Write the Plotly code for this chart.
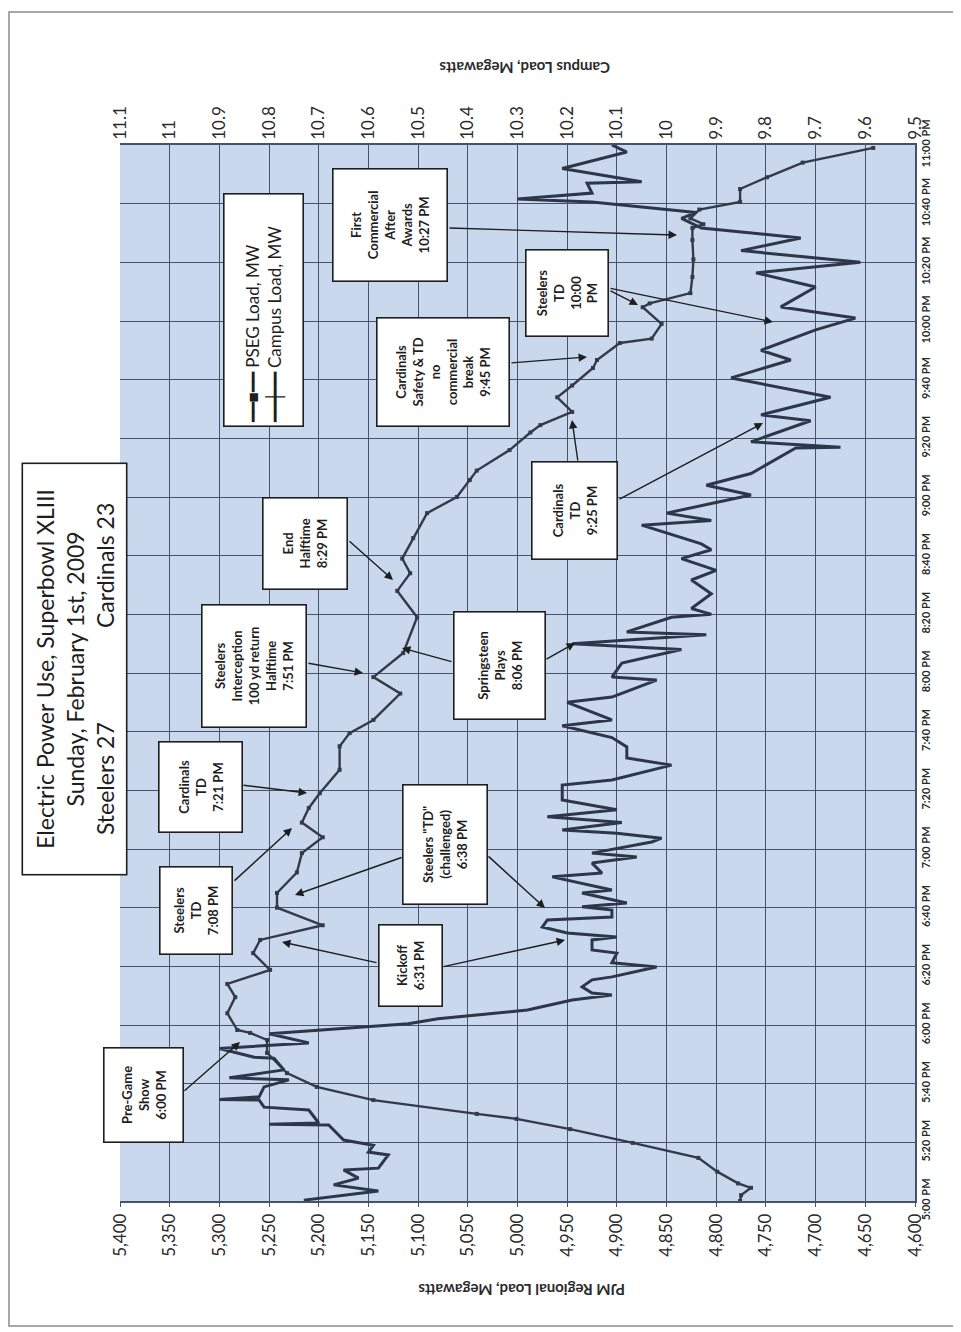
import plotly.graph_objects as go

# ---------------- data ----------------
time_tick_min = [0, 20, 40, 60, 80, 100, 120, 140, 160, 180, 200, 220, 240, 260, 280, 300, 320, 340, 360]
time_tick_labels = ["5:00 PM", "5:20 PM", "5:40 PM", "6:00 PM", "6:20 PM", "6:40 PM", "7:00 PM",
                    "7:20 PM", "7:40 PM", "8:00 PM", "8:20 PM", "8:40 PM", "9:00 PM", "9:20 PM",
                    "9:40 PM", "10:00 PM", "10:20 PM", "10:40 PM", "11:00 PM"]

pjm_ticks = [4600, 4650, 4700, 4750, 4800, 4850, 4900, 4950, 5000, 5050, 5100, 5150, 5200, 5250, 5300, 5350, 5400]
pjm_tick_labels = ["4,600", "4,650", "4,700", "4,750", "4,800", "4,850", "4,900", "4,950", "5,000",
                   "5,050", "5,100", "5,150", "5,200", "5,250", "5,300", "5,350", "5,400"]

campus_ticks = [9.5, 9.6, 9.7, 9.8, 9.9, 10.0, 10.1, 10.2, 10.3, 10.4, 10.5, 10.6, 10.7, 10.8, 10.9, 11.0, 11.1]
campus_tick_labels = ["9.5", "9.6", "9.7", "9.8", "9.9", "10", "10.1", "10.2", "10.3", "10.4", "10.5",
                      "10.6", "10.7", "10.8", "10.9", "11", "11.1"]

# minutes after 5:00 PM
pseg_min = [0, 2, 4.5, 6, 10, 14.7, 19.8, 24.5, 28, 29.7, 34.4, 38.9, 43.6, 50.5, 54.9, 57.3, 58.3,
            64, 69.5, 74, 78.8, 84.5, 89, 94, 100, 105, 112, 118.6, 124, 129, 134, 139, 147, 155,
            159.5, 164, 173, 178.6, 186.8, 199, 208, 214, 219, 226, 234.5, 240, 245.8, 249, 256,
            262, 264.5, 269, 274, 278, 284, 286.7, 292.5, 294, 299, 304.7, 306, 309.5, 315, 321,
            327.6, 331.7, 333, 335, 338, 340.6, 345, 349, 354, 359]
pseg_mw = [4776, 4775, 4765, 4778, 4799, 4818, 4884, 4947, 5001, 5041, 5145, 5202, 5232, 5252, 5252, 5269, 5282,
           5292, 5284, 5292, 5249, 5266, 5259, 5196, 5242, 5242, 5222, 5217, 5196, 5217, 5210, 5199, 5179, 5179,
           5169, 5145, 5118, 5145, 5115, 5101, 5121, 5108, 5116, 5105, 5091, 5061, 5048, 5041, 5008,
           4987, 4977, 4945, 4960, 4945, 4924, 4920, 4897, 4865, 4855, 4874, 4867, 4826, 4824, 4823,
           4824, 4824, 4813, 4826, 4817, 4776, 4776, 4749, 4713, 4642]

campus_min = [0.3, 3.4, 5.5, 7.8, 10.6, 11.2, 15.7, 16.7, 19, 20.8, 25.9, 26.2, 26.6, 31, 32, 34.4, 34.6,
              35.5, 38.9, 41.3, 42, 44.7, 48.7, 49, 52, 53.9, 57, 58.3, 60.4, 62.1, 64.4, 65.1, 68.5,
              70.2, 70.9, 73, 75.4, 76.4, 79.8, 81.2, 84.5, 85.6, 89, 90, 91.4, 93.4, 95.8, 96.8, 99.2,
              100.3, 101.6, 105, 106, 110.5, 111.8, 115.2, 117.3, 118.6, 122.4, 123.7, 125.4, 126.5,
              129, 131, 133.4, 136.7, 141.8, 143.5, 148.6, 151, 154.8, 158, 162, 164, 170, 171.8,
              177.6, 178.6, 183.4, 188, 190, 193, 194, 199, 200, 202, 207, 211.7, 215, 219, 222, 224,
              230.4, 232, 234.5, 240.7, 244, 248, 256.7, 257, 258.8, 266, 268, 274, 280.6, 286.7,
              290, 297, 301, 304.8, 311.6, 316.4, 320, 324, 328.3, 331.7, 335, 337, 340.6, 341.6,
              343.6, 347, 347.5, 352, 357.6, 360]
campus_mw = [10.73, 10.58, 10.67, 10.62, 10.65, 10.58, 10.56, 10.60, 10.59, 10.65, 10.68, 10.80, 10.70, 10.72,
             10.81, 10.82, 10.90, 10.82, 10.81, 10.76, 10.88, 10.77, 10.79, 10.83, 10.90, 10.72, 10.80, 10.70,
             10.52, 10.46, 10.33, 10.28, 10.19, 10.11, 10.15, 10.17, 10.15, 10.11, 10.02, 10.11, 10.10, 10.15,
             10.15, 10.10, 10.20, 10.25, 10.24, 10.11, 10.11, 10.17, 10.08, 10.17, 10.11, 10.23, 10.13, 10.15,
             10.06, 10.15, 10.03, 10.01, 10.10, 10.21, 10.09, 10.24, 10.10, 10.21, 10.21, 10.11, 9.99, 10.08,
             10.08, 10.11, 10.21, 10.11, 10.20, 10.11, 10.02, 10.11, 10.09, 9.97, 10.19, 9.92, 10.08, 9.99,
             9.91, 9.95, 9.91, 9.95, 9.90, 9.97, 9.91, 9.93, 10.05, 9.91, 10.00, 9.83, 9.92, 9.83, 9.74, 9.65,
             9.83, 9.71, 9.81, 9.67, 9.87, 9.75, 9.81, 9.70, 9.62, 9.77, 9.70, 9.82, 9.61, 9.85, 9.73, 9.93,
             9.97, 9.94, 10.15, 10.30, 10.15, 10.16, 10.05, 10.21, 10.08, 10.11]

# ---------------- layout helpers (screen pixel -> paper) ----------------
OFF = 8                      # page body margin
L, R, T, B = 120, 915, 145, 1201   # plot area on screen
FIG_W, FIG_H = 953, 1324
W_PLOT, H_PLOT = R - L, B - T


def px(xp, yp):
    return (xp - L) / W_PLOT, (B - yp) / H_PLOT


FONT = "Lato"
LINE = "#343a48"
GRID = "#46536d"
INK = "#1e1e1e"

fig = go.Figure()
fig.add_trace(go.Scatter(x=pseg_mw, y=pseg_min, xaxis="x", yaxis="y", mode="lines+markers",
                         line=dict(color=LINE, width=2.4), marker=dict(symbol="square", size=4, color=LINE),
                         name="PSEG Load, MW", showlegend=False))
fig.add_trace(go.Scatter(x=campus_mw, y=campus_min, xaxis="x2", yaxis="y", mode="lines",
                         line=dict(color="#2e364a", width=3), name="Campus Load, MW", showlegend=False))

annotations = []

# arrows: (tail px, head px)
arrows = [
    ((183, 1092), (240, 1042)),
    ((233, 882), (292, 828)),
    ((403, 857), (295, 895)),
    ((487, 855), (545, 908)),
    ((378, 963), (282, 942)),
    ((442, 967), (565, 940)),
    ((242, 785), (307, 793)),
    ((307, 663), (363, 673)),
    ((348, 540), (393, 580)),
    ((453, 662), (402, 648)),
    ((545, 660), (575, 643)),
    ((578, 462), (572, 420)),
    ((618, 500), (763, 423)),
    ((510, 363), (587, 357)),
    ((609, 290), (638, 305)),
    ((609, 288), (773, 322)),
    ((448, 228), (677, 235)),
]
for (tx, ty), (hx, hy) in arrows:
    x0, y0 = px(hx, hy)
    annotations.append(dict(xref="paper", yref="paper", x=x0, y=y0, text="", showarrow=True,
                            ax=tx - hx, ay=ty - hy, axref="pixel", ayref="pixel",
                            arrowhead=2, arrowsize=1.2, arrowwidth=1.4, arrowcolor=INK))

# callout boxes: (center px, screen w, screen h, text, font size)
boxes = [
    ((143, 1095), 80, 95, "Pre-Game<br>Show<br>6:00 PM", 13),
    ((196, 911), 73, 88, "Steelers<br>TD<br>7:08 PM", 13),
    ((200, 787), 84, 91, "Cardinals<br>TD<br>7:21 PM", 13),
    ((254, 666), 105, 123, "Steelers<br>Interception<br>100 yd return<br>Halftime<br>7:51 PM", 13),
    ((305, 544), 85, 92, "End<br>Halftime<br>8:29 PM", 13),
    ((410, 966), 64, 82, "Kickoff<br>6:31 PM", 13),
    ((445, 845), 85, 120, "Steelers \"TD\"<br>(challenged)<br>6:38 PM", 13),
    ((499, 666), 92, 108, "Springsteen<br>Plays<br>8:06 PM", 13),
    ((575, 511), 86, 98, "Cardinals<br>TD<br>9:25 PM", 13),
    ((443, 372), 133, 109, "Cardinals<br>Safety &amp; TD<br>no<br>commercial<br>break<br>9:45 PM", 13),
    ((567, 293), 83, 87, "Steelers<br>TD<br>10:00<br>PM", 13),
    ((390, 225), 115, 113, "First<br>Commercial<br>After<br>Awards<br>10:27 PM", 13),
]
for (cx, cy), w, h, txt, fs in boxes:
    x0, y0 = px(cx, cy)
    annotations.append(dict(xref="paper", yref="paper", x=x0, y=y0, text="<b>" + txt + "</b>",
                            showarrow=False, textangle=-90, xanchor="center", yanchor="middle",
                            width=h - 6, height=w - 6, borderpad=2, bgcolor="white",
                            bordercolor=INK, borderwidth=1.6,
                            font=dict(family=FONT, size=fs, color=INK), align="center"))

# legend box
x0, y0 = px(263, 310)
annotations.append(dict(xref="paper", yref="paper", x=x0, y=y0,
                        text="━━■━━ PSEG Load, MW<br>━━┿━━ Campus Load, MW",
                        showarrow=False, textangle=-90, xanchor="center", yanchor="middle",
                        width=227, height=74, borderpad=2, bgcolor="white", bordercolor=INK,
                        borderwidth=1.6, font=dict(family=FONT, size=17, color=INK), align="left"))

# title box
x0, y0 = px(74.5, 669)
annotations.append(dict(xref="paper", yref="paper", x=x0, y=y0,
                        text="Electric Power Use, Superbowl XLIII<br>Sunday, February 1st, 2009<br>"
                             "Steelers 27" + "&nbsp;" * 16 + "Cardinals 23",
                        showarrow=False, textangle=-90, xanchor="center", yanchor="middle",
                        width=406, height=99, borderpad=2, bgcolor="white", bordercolor=INK,
                        borderwidth=1.6, font=dict(family=FONT, size=23, color=INK), align="center"))

# axis titles (upside down as in the reference)
x0, y0 = px(522, 1290)
annotations.append(dict(xref="paper", yref="paper", x=x0, y=y0, text="<b>PJM Regional Load, Megawatts</b>",
                        showarrow=False, textangle=180, xanchor="center", yanchor="middle",
                        font=dict(family=FONT, size=15, color="#2a2a2a")))
x0, y0 = px(525, 68)
annotations.append(dict(xref="paper", yref="paper", x=x0, y=y0, text="<b>Campus Load, Megawatts</b>",
                        showarrow=False, textangle=180, xanchor="center", yanchor="middle",
                        font=dict(family=FONT, size=15, color="#2a2a2a")))

# page frame
fx0, fy0 = px(9, 12)
fx1, fy1 = px(955, 1326)
shapes = [dict(type="rect", xref="paper", yref="paper", x0=fx0, y0=fy0, x1=fx1, y1=fy1,
               line=dict(color="#8a8a8a", width=1.5), layer="below")]

axis_common = dict(showline=True, linecolor=GRID, linewidth=1.5, mirror=False, zeroline=False,
                   automargin=False)

fig.update_layout(
    width=FIG_W, height=FIG_H,
    margin=dict(l=L - OFF, r=FIG_W - (R - OFF), t=T - OFF, b=FIG_H - (B - OFF)),
    paper_bgcolor="white", plot_bgcolor="#c9d8ec",
    font=dict(family=FONT, color="#2a2a2a"),
    xaxis=dict(range=[5400, 4600], tickvals=pjm_ticks, ticktext=pjm_tick_labels, tickangle=-90,
               side="bottom", showgrid=True, gridcolor=GRID, gridwidth=1, ticks="outside", ticklen=4,
               tickcolor=GRID, tickfont=dict(size=17, family=FONT), **axis_common),
    xaxis2=dict(range=[11.1, 9.5], tickvals=campus_ticks, ticktext=campus_tick_labels, tickangle=-90,
                overlaying="x", side="top", showgrid=False, ticks="", ticklen=0,
                tickfont=dict(size=17, family=FONT), **axis_common),
    yaxis=dict(range=[0, 360], tickvals=time_tick_min, ticktext=time_tick_labels, tickangle=-90,
               side="right", showgrid=True, gridcolor=GRID, gridwidth=1, ticks="",
               tickfont=dict(size=11, family=FONT, weight="bold"), **axis_common),
    annotations=annotations,
    shapes=shapes,
    showlegend=False,
)

fig.write_html("out.html")
